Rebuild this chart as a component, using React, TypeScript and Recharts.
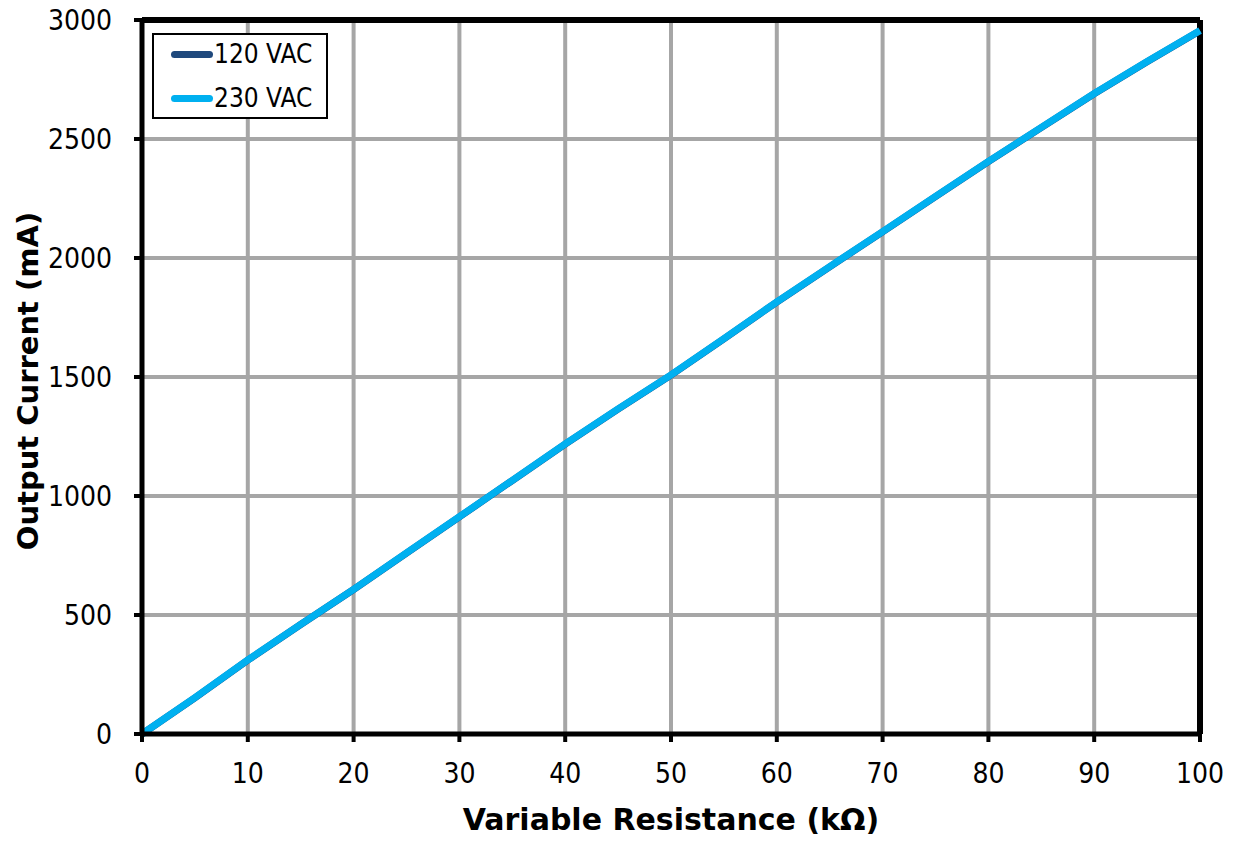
import React from 'react';
import { LineChart, Line, XAxis, YAxis, CartesianGrid, ReferenceLine } from 'recharts';

const resistance = [0, 5, 10, 15, 20, 25, 30, 35, 40, 45, 50, 55, 60, 65, 70, 75, 80, 85, 90, 95, 100];
const current120 = [0, 152, 310, 460, 607, 760, 912, 1065, 1218, 1365, 1508, 1660, 1815, 1963, 2110, 2258, 2405, 2548, 2690, 2825, 2955];
const current230 = [0, 153, 311, 461, 608, 761, 913, 1066, 1219, 1366, 1509, 1661, 1816, 1964, 2111, 2259, 2406, 2549, 2691, 2826, 2956];
const xTicks = [0, 10, 20, 30, 40, 50, 60, 70, 80, 90, 100];
const yTicks = [0, 500, 1000, 1500, 2000, 2500, 3000];

const data = resistance.map((r, i) => ({ r, v120: current120[i], v230: current230[i] }));

const TICK_FONT = '"DejaVu Sans Condensed", Tahoma, "DejaVu Sans", sans-serif';
const TITLE_FONT = 'Tahoma, Verdana, "DejaVu Sans", sans-serif';

export default function App() {
  return (
    <div style={{ position: 'absolute', left: 0, top: 0, width: 1236, height: 842, background: '#fff' }}>
      <LineChart width={1236} height={842} data={data} margin={{ top: 20, right: 36, bottom: 0, left: 0 }}>
        <CartesianGrid stroke="#A6A6A6" strokeWidth={4} verticalValues={xTicks} horizontalValues={yTicks} />
        <XAxis
          dataKey="r"
          type="number"
          domain={[0, 100]}
          ticks={xTicks}
          height={108}
          axisLine={{ stroke: '#000', strokeWidth: 5 }}
          tickLine={{ stroke: '#000', strokeWidth: 4 }}
          tickSize={8}
          tickMargin={21}
          tick={{ fill: '#000', fontSize: 28, fontFamily: TICK_FONT }}
          label={{ value: 'Variable Resistance (kΩ)', position: 'insideBottom', offset: 12, fill: '#000', fontSize: 30, fontWeight: 'bold', fontFamily: TITLE_FONT }}
        />
        <YAxis
          type="number"
          domain={[0, 3000]}
          ticks={yTicks}
          width={142}
          axisLine={{ stroke: '#000', strokeWidth: 5 }}
          tickLine={{ stroke: '#000', strokeWidth: 4 }}
          tickSize={8}
          tickMargin={22}
          tick={{ fill: '#000', fontSize: 28, fontFamily: TICK_FONT }}
          label={{ value: 'Output Current (mA)', angle: -90, position: 'insideLeft', offset: 28, dy: 4, style: { textAnchor: 'middle' }, fill: '#000', fontSize: 29, fontWeight: 'bold', fontFamily: TITLE_FONT }}
        />
        <ReferenceLine x={100} stroke="#000" strokeWidth={6} />
        <ReferenceLine y={3000} stroke="#000" strokeWidth={6} />
        <Line dataKey="v120" stroke="#1F497D" strokeWidth={7} dot={false} isAnimationActive={false} />
        <Line dataKey="v230" stroke="#00B0F0" strokeWidth={7} dot={false} isAnimationActive={false} />
      </LineChart>
      <div style={{ position: 'absolute', left: 152, top: 33, width: 176, height: 86, border: '2px solid #000', background: '#fff', boxSizing: 'border-box', fontSize: 26, fontFamily: TICK_FONT }}>
        {[{ name: '120 VAC', color: '#1F497D' }, { name: '230 VAC', color: '#00B0F0' }].map((s, i) => (
          <div key={s.name} style={{ position: 'absolute', left: 17, top: 3 + i * 44, display: 'flex', alignItems: 'center', height: 32 }}>
            <div style={{ width: 42, height: 7, borderRadius: 4, background: s.color }} />
            <span style={{ marginLeft: 1 }}>{s.name}</span>
          </div>
        ))}
      </div>
    </div>
  );
}
